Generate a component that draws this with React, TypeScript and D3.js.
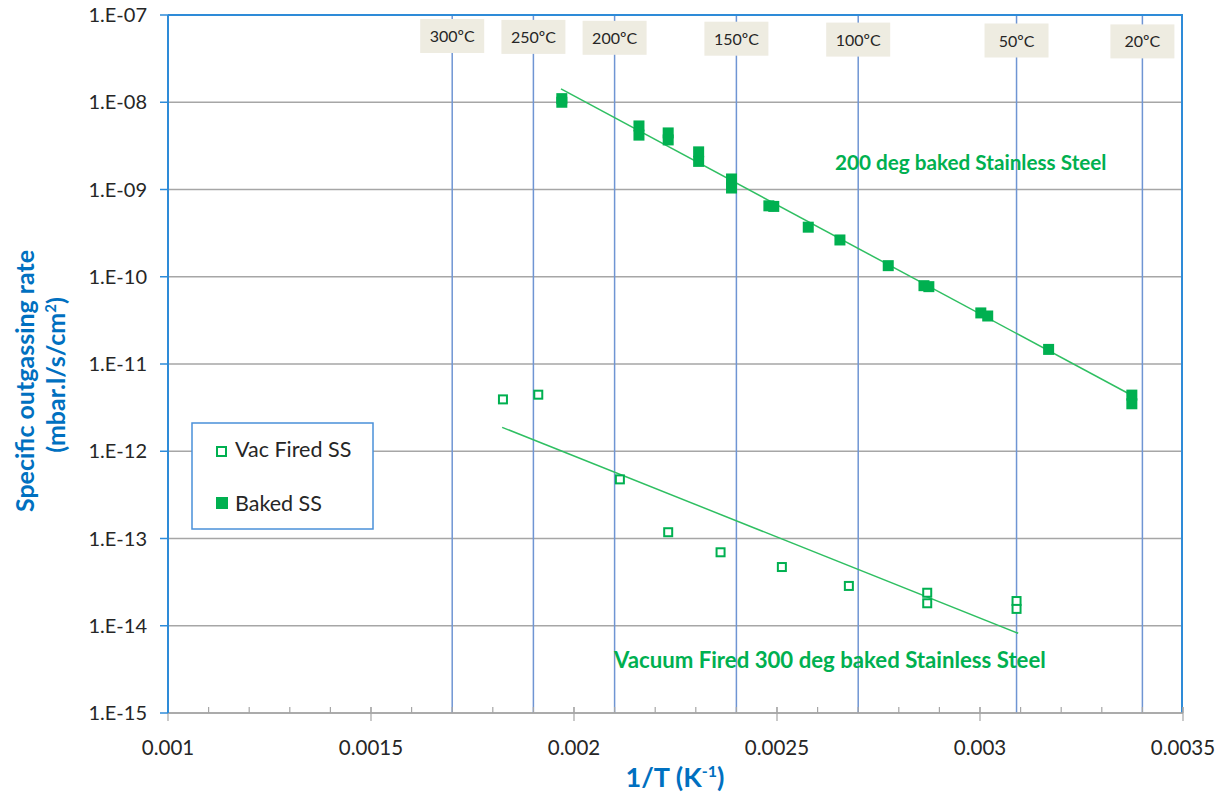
import { useEffect, useRef } from "react";
import * as d3 from "d3";

// baked stainless steel (filled squares)
const bakedX = [0.00197, 0.00197, 0.00216, 0.00216, 0.002232, 0.002232, 0.002307, 0.002307, 0.002388, 0.002388,
  0.00248, 0.002492, 0.002577, 0.002655, 0.002774, 0.002862, 0.002874, 0.003002, 0.003019, 0.003169, 0.003374, 0.003374];
const bakedY = [1.0e-8, 1.1e-8, 5.35e-9, 4.2e-9, 4.45e-9, 3.7e-9, 2.7e-9, 2.1e-9, 1.32e-9, 1.04e-9,
  6.5e-10, 6.4e-10, 3.7e-10, 2.64e-10, 1.34e-10, 7.9e-11, 7.7e-11, 3.85e-11, 3.55e-11, 1.47e-11, 4.4e-12, 3.5e-12];

// vacuum fired stainless steel (open squares)
const vacX = [0.001825, 0.001912, 0.002113, 0.002232, 0.002361, 0.002512, 0.002677, 0.00287, 0.00287, 0.00309, 0.00309];
const vacY = [3.93e-12, 4.45e-12, 4.76e-13, 1.18e-13, 6.95e-14, 4.71e-14, 2.86e-14, 2.39e-14, 1.81e-14, 1.92e-14, 1.56e-14];

// trendlines (end points)
const bakedTrendX = [0.001968, 0.003377];
const bakedTrendY = [1.42e-8, 4.3e-12];
const vacTrendX = [0.001823, 0.003094];
const vacTrendY = [1.88e-12, 8.2e-15];

// temperature marker lines
const tempX = [0.0017, 0.0019, 0.0021, 0.0024, 0.0027, 0.00309, 0.0034];
const tempLabels = ["300ºC", "250ºC", "200ºC", "150ºC", "100ºC", "50ºC", "20ºC"];

const xTicks = [0.001, 0.0015, 0.002, 0.0025, 0.003, 0.0035];
const xTickLabels = ["0.001", "0.0015", "0.002", "0.0025", "0.003", "0.0035"];
const yTicks = [1e-7, 1e-8, 1e-9, 1e-10, 1e-11, 1e-12, 1e-13, 1e-14, 1e-15];
const yTickLabels = ["1.E-07", "1.E-08", "1.E-09", "1.E-10", "1.E-11", "1.E-12", "1.E-13", "1.E-14", "1.E-15"];

const FONT = "Lato, 'Open Sans', sans-serif";
const GREEN = "#00B050";
const BLUE = "#0070C0";

export default function App() {
  const ref = useRef<SVGSVGElement>(null);

  useEffect(() => {
    if (!ref.current) return;
    const width = 1217, height = 797;
    const svg = d3.select(ref.current);
    svg.selectAll("*").remove();

    const left = 168, right = 1183, top = 15, bottom = 713;

    const x = d3.scaleLinear().domain([0.001, 0.0035]).range([left, right]);
    const y = d3.scaleLog().domain([1e-15, 1e-7]).range([bottom, top]);

    svg.append("rect").attr("width", width).attr("height", height).attr("fill", "#fff");

    // horizontal gridlines
    svg.append("g")
      .selectAll("line")
      .data(yTicks.slice(1))
      .join("line")
      .attr("x1", left).attr("x2", right)
      .attr("y1", (d) => y(d)).attr("y2", (d) => y(d))
      .attr("stroke", "#a6a6a6").attr("stroke-width", 1.5);

    // temperature lines
    svg.append("g")
      .selectAll("line")
      .data(tempX)
      .join("line")
      .attr("x1", (d) => x(d)).attr("x2", (d) => x(d))
      .attr("y1", top).attr("y2", bottom)
      .attr("stroke", "#6f95d3").attr("stroke-width", 1.5);

    // plot border (top / right) in blue
    svg.append("line").attr("x1", left).attr("x2", right).attr("y1", top).attr("y2", top)
      .attr("stroke", "#2e8bd8").attr("stroke-width", 2);
    svg.append("line").attr("x1", right - 1).attr("x2", right - 1).attr("y1", top).attr("y2", bottom)
      .attr("stroke", "#2e8bd8").attr("stroke-width", 2);

    // x axis
    svg.append("line").attr("x1", left).attr("x2", right).attr("y1", bottom).attr("y2", bottom)
      .attr("stroke", "#a6a6a6").attr("stroke-width", 1.5);
    const minor = d3.range(0, 26).map((i) => 0.001 + i * 0.0001);
    svg.append("g")
      .selectAll("line")
      .data(minor)
      .join("line")
      .attr("x1", (d) => x(d)).attr("x2", (d) => x(d))
      .attr("y1", bottom - 6).attr("y2", bottom)
      .attr("stroke", "#a6a6a6").attr("stroke-width", 1.2);
    svg.append("g")
      .selectAll("line")
      .data(xTicks)
      .join("line")
      .attr("x1", (d) => x(d)).attr("x2", (d) => x(d))
      .attr("y1", bottom - 6).attr("y2", bottom + 8)
      .attr("stroke", "#a6a6a6").attr("stroke-width", 1.2);
    svg.append("g")
      .selectAll("text")
      .data(xTicks)
      .join("text")
      .attr("x", (d) => x(d))
      .attr("y", bottom + 42)
      .attr("text-anchor", "middle")
      .style("font-family", FONT).style("font-size", "20.5px").attr("fill", "#262626")
      .text((d, i) => xTickLabels[i]);

    // y axis
    svg.append("g")
      .selectAll("line")
      .data(yTicks)
      .join("line")
      .attr("x1", left - 8).attr("x2", left)
      .attr("y1", (d) => y(d)).attr("y2", (d) => y(d))
      .attr("stroke", "#2e8bd8").attr("stroke-width", 1.5);
    svg.append("line").attr("x1", left).attr("x2", left).attr("y1", top).attr("y2", bottom)
      .attr("stroke", "#2e8bd8").attr("stroke-width", 2);
    svg.append("g")
      .selectAll("text")
      .data(yTicks)
      .join("text")
      .attr("x", left - 21)
      .attr("y", (d) => y(d))
      .attr("dy", "0.35em")
      .attr("text-anchor", "end")
      .style("font-family", FONT).style("font-size", "20px").attr("fill", "#262626")
      .text((d, i) => yTickLabels[i]);

    // temperature label boxes
    const tl = svg.append("g")
      .selectAll("g")
      .data(tempX)
      .join("g")
      .attr("transform", (d, i) => `translate(${x(d)},${19 + i * 0.9})`);
    tl.append("rect").attr("x", -32).attr("width", 64).attr("height", 34).attr("fill", "#eeece1");
    tl.append("text")
      .attr("y", 23).attr("text-anchor", "middle")
      .style("font-family", FONT).style("font-size", "16px").attr("fill", "#262626")
      .text((d, i) => tempLabels[i]);

    // trendlines
    svg.append("path")
      .attr("d", d3.line<number>().x((d) => x(d)).y((d, i) => y(bakedTrendY[i]))(bakedTrendX))
      .attr("fill", "none").attr("stroke", "#2fbf62").attr("stroke-width", 1.5);
    svg.append("path")
      .attr("d", d3.line<number>().x((d) => x(d)).y((d, i) => y(vacTrendY[i]))(vacTrendX))
      .attr("fill", "none").attr("stroke", "#2fbf62").attr("stroke-width", 1.5);

    // baked points
    svg.append("g")
      .selectAll("rect")
      .data(bakedX)
      .join("rect")
      .attr("x", (d) => x(d) - 5.5)
      .attr("y", (d, i) => y(bakedY[i]) - 5.5)
      .attr("width", 11).attr("height", 11)
      .attr("fill", GREEN);

    // vac fired points
    svg.append("g")
      .selectAll("rect")
      .data(vacX)
      .join("rect")
      .attr("x", (d) => x(d) - 4)
      .attr("y", (d, i) => y(vacY[i]) - 4)
      .attr("width", 8).attr("height", 8)
      .attr("fill", "#fff").attr("stroke", GREEN).attr("stroke-width", 2);

    // series annotations
    svg.append("text")
      .attr("x", 835).attr("y", 170)
      .style("font-family", FONT).style("font-size", "20.7px").style("font-weight", "bold")
      .attr("fill", GREEN)
      .text("200 deg baked Stainless Steel");
    svg.append("text")
      .attr("x", 614).attr("y", 668)
      .style("font-family", FONT).style("font-size", "22.2px").style("font-weight", "bold")
      .attr("fill", GREEN)
      .text("Vacuum Fired 300 deg baked Stainless Steel");

    // legend
    const lg = svg.append("g").attr("transform", "translate(192,423)");
    lg.append("rect").attr("width", 181).attr("height", 106)
      .attr("fill", "#fff").attr("stroke", "#4a90d9").attr("stroke-width", 1.5);
    lg.append("rect").attr("x", 25).attr("y", 24).attr("width", 9).attr("height", 9)
      .attr("fill", "#fff").attr("stroke", GREEN).attr("stroke-width", 2);
    lg.append("rect").attr("x", 24).attr("y", 74).attr("width", 12).attr("height", 12)
      .attr("fill", GREEN);
    lg.append("text").attr("x", 43).attr("y", 34)
      .style("font-family", FONT).style("font-size", "21.5px").attr("fill", "#262626")
      .text("Vac Fired SS");
    lg.append("text").attr("x", 43).attr("y", 88)
      .style("font-family", FONT).style("font-size", "21.5px").attr("fill", "#262626")
      .text("Baked SS");

    // axis titles
    const xt = svg.append("text")
      .attr("x", 675).attr("y", 787)
      .attr("text-anchor", "middle")
      .style("font-family", FONT).style("font-size", "27px").style("font-weight", "bold")
      .attr("fill", BLUE);
    xt.append("tspan").text("1/T (K");
    xt.append("tspan").attr("dy", -10).style("font-size", "16px").text("-1");
    xt.append("tspan").attr("dy", 10).text(")");

    svg.append("text")
      .attr("transform", "translate(34,381) rotate(-90)")
      .attr("text-anchor", "middle")
      .style("font-family", FONT).style("font-size", "25px").style("font-weight", "bold")
      .attr("fill", BLUE)
      .text("Specific outgassing rate");
    const yt2 = svg.append("text")
      .attr("transform", "translate(65,375) rotate(-90)")
      .attr("text-anchor", "middle")
      .style("font-family", FONT).style("font-size", "25px").style("font-weight", "bold")
      .attr("fill", BLUE);
    yt2.append("tspan").text("(mbar.l/s/cm");
    yt2.append("tspan").attr("dy", -9).style("font-size", "15px").text("2");
    yt2.append("tspan").attr("dy", 9).text(")");
  }, []);

  return (
    <svg
      ref={ref}
      width={1217}
      height={797}
      style={{ position: "absolute", left: 0, top: 0, display: "block" }}
    ></svg>
  );
}
